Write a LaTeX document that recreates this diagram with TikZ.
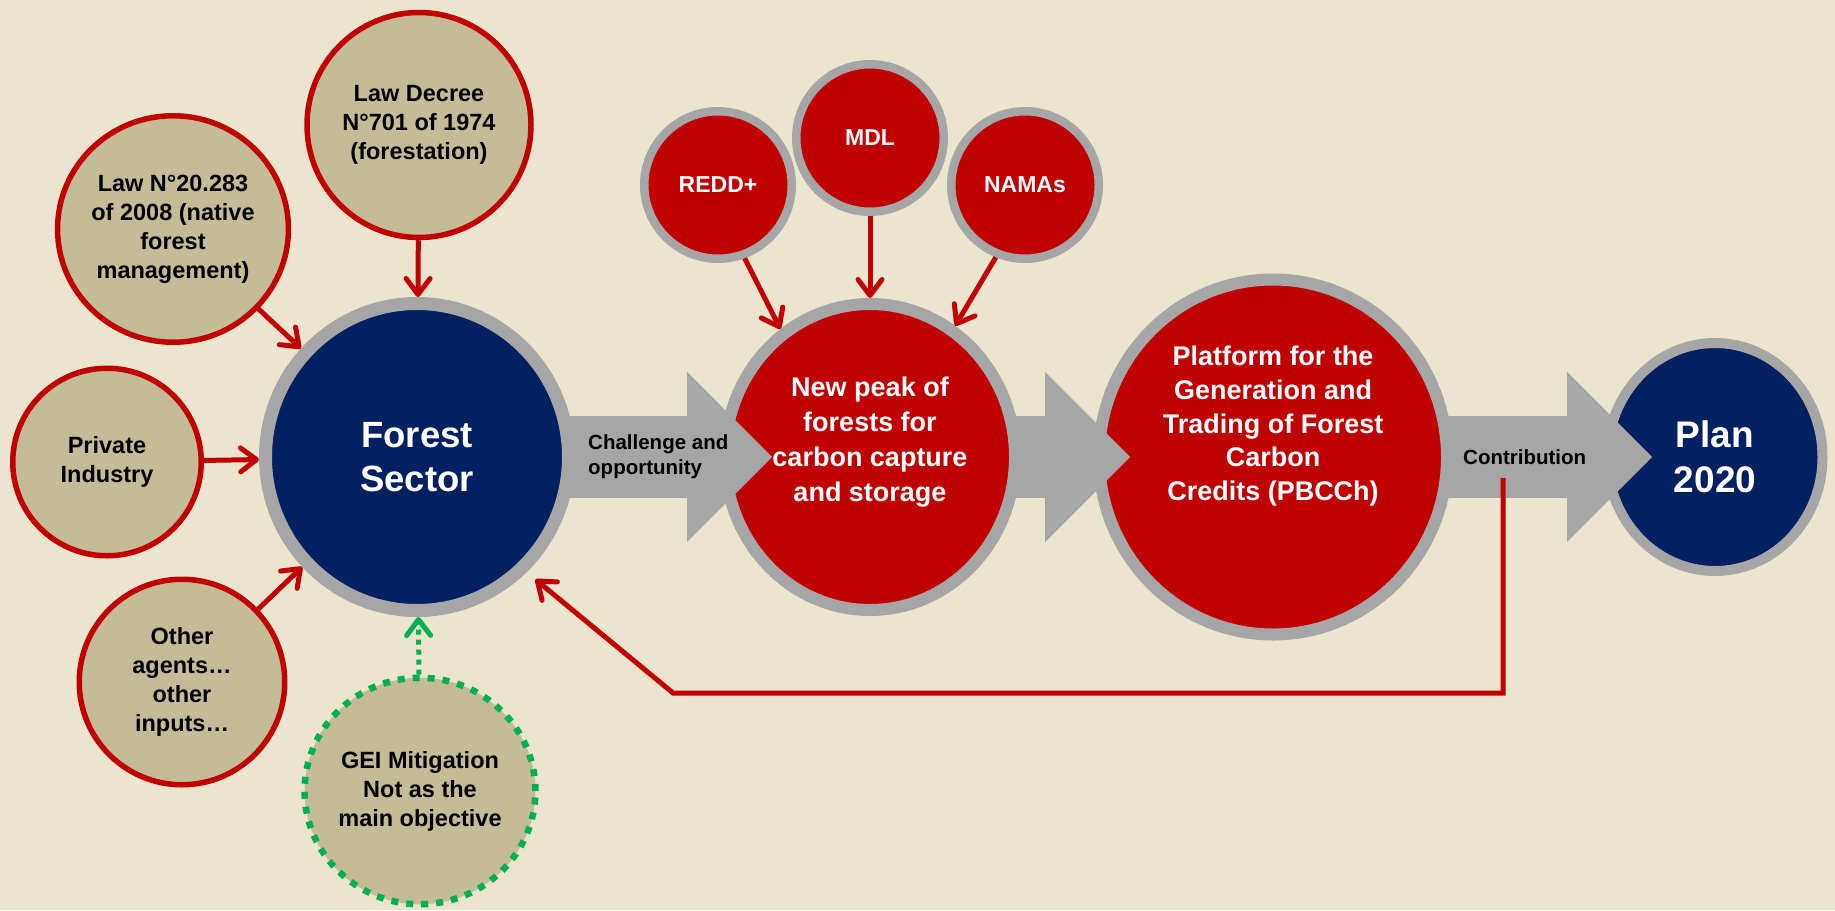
\documentclass[tikz,border=0pt]{standalone}
\usepackage{fontspec}
\setmainfont{Liberation Sans}
\usepackage{tikz}
\usetikzlibrary{shapes.geometric,arrows.meta,positioning}

\definecolor{bgbeige}{RGB}{235,229,207}
\definecolor{sand}{RGB}{196,188,150}
\definecolor{darkred}{RGB}{192,0,0}
\definecolor{navy}{RGB}{0,32,96}
\definecolor{ringgray}{RGB}{166,166,166}
\definecolor{dotgreen}{RGB}{0,176,80}

\tikzset{
  input/.style={ellipse, fill=sand, draw=darkred, line width=5.5pt, inner sep=0pt, align=center, text=black,
    font=\bfseries\fontsize{23.5}{29}\selectfont},
  hub/.style={ellipse, draw=ringgray, inner sep=0pt, align=center, text=white},
  scheme/.style={hub, fill=darkred, line width=8.5pt, minimum width=147.5pt, minimum height=147.5pt,
    font=\bfseries\fontsize{23}{28}\selectfont},
  redarrow/.style={draw=darkred, line width=5pt, -{Straight Barb[length=16pt,width=24pt,round]}},
  greenarrow/.style={draw=dotgreen, line width=5pt, dash pattern=on 5pt off 5pt, -{Straight Barb[length=16pt,width=24pt,round]}},
  flow/.style={draw=ringgray, line width=82pt, -{Triangle[length=85pt,width=170pt,line width=0pt]}},
  flowtext/.style={inner sep=0pt, align=left, text=black, font=\bfseries\fontsize{20.5}{25}\selectfont}
}

\begin{document}
\begin{tikzpicture}[x=1pt, y=-1pt]
\useasboundingbox (0,0) rectangle (1835,910);
\fill [bgbeige] (0,0) rectangle (1835,910);

% inputs of the forest sector
\node [input, minimum width=224pt, minimum height=225pt] (decree) at (419,125) {Law Decree\\N°701 of 1974\\(forestation)};
\node [input, minimum width=226.5pt, minimum height=226.5pt] (law) at (173,229) {Law N°20.283\\of 2008 (native\\forest\\management)};
\node [input, minimum width=188.5pt, minimum height=187.5pt] (private) at (107,462) {Private\\Industry};
\node [input, minimum width=205.5pt, minimum height=205.5pt] (other) at (182,682) {Other\\agents…\\other\\inputs…};
\node [input, draw=dotgreen, line width=6.5pt, dash pattern=on 7pt off 8pt, minimum width=228.5pt, minimum height=226.5pt] (gei) at (420,791) {GEI Mitigation\\Not as the\\main objective};

% main chain
\node [hub, fill=navy, line width=13pt, minimum width=303pt, minimum height=307pt, font=\bfseries\fontsize{36.5}{44}\selectfont] (forest) at (417,457) {Forest\\Sector};
\node [hub, fill=darkred, line width=12pt, minimum width=290pt, minimum height=306pt, font=\bfseries\fontsize{27}{35}\selectfont] (peak) at (870,457) {New peak of\\forests for\\carbon capture\\and storage\\~};
\node [hub, fill=darkred, line width=12pt, minimum width=348pt, minimum height=355pt, font=\bfseries\fontsize{27}{33.7}\selectfont] (platform) at (1273,457) {Platform for the\\Generation and\\Trading of Forest\\Carbon\\Credits (PBCCh)\\~\\~};
\node [hub, fill=navy, line width=10pt, minimum width=215pt, minimum height=228pt, font=\bfseries\fontsize{37}{45}\selectfont] (plan) at (1715,457) {Plan\\2020};

% mechanisms
\node [scheme] (redd) at (718,185) {REDD+};
\node [scheme] (mdl) at (870,138) {MDL};
\node [scheme] (namas) at (1025,185) {NAMAs};

\draw [redarrow] (decree) -- (forest);
\draw [redarrow] (law) -- (forest);
\draw [redarrow] (private) -- (forest);
\draw [redarrow] (other) -- (forest);
\draw [greenarrow] (gei) -- (forest);

\draw [redarrow] (redd.-70) -- (peak.125);
\draw [redarrow] (mdl) -- (peak);
\draw [redarrow] (namas.-112) -- (peak.57);

% big gray arrows
\draw [flow] ([xshift=-6pt]forest.east) -- ([xshift=53pt]peak.west);
\draw [flow] ([xshift=-6pt]peak.east) -- ([xshift=37pt]platform.west);
\draw [flow] ([xshift=-6pt]platform.east) -- ([xshift=49.5pt]plan.west);
\node [flowtext, anchor=west] (challenge) at ([xshift=13pt]forest.east) {Challenge and\\opportunity};
\node [flowtext, right=10pt of platform] (contribution) {Contribution};

% feedback
\coordinate (fbstart) at (1503,478);
\coordinate (fbcorner) at (673,693);
\draw [redarrow] (fbstart) |- (fbcorner) -- ([shift={(8,8)}]forest.-46);
\end{tikzpicture}
\end{document}
